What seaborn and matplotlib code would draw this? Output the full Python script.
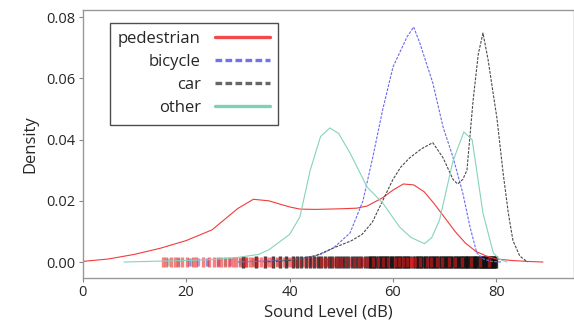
import matplotlib
matplotlib.use("Agg")
import matplotlib.pyplot as plt
import seaborn as sns
from matplotlib.lines import Line2D

sns.set_style("ticks")
plt.rcParams["font.family"] = ["Open Sans", "DejaVu Sans"]

# density curves
ped_x = [0, 5, 10, 15, 20, 25, 30, 33, 36, 40, 42, 45, 50, 53, 55, 58, 60, 62, 64, 66, 68, 70, 72, 74, 76, 78, 80, 83, 86, 89]
ped_y = [0.0002, 0.001, 0.0025, 0.0045, 0.007, 0.0105, 0.0175, 0.0205, 0.0200, 0.0180, 0.0173, 0.0172, 0.0174, 0.0176, 0.0183, 0.021, 0.0235, 0.0255, 0.0252, 0.023, 0.019, 0.0145, 0.010, 0.0062, 0.0035, 0.002, 0.001, 0.0005, 0.0002, 0.0]

bic_x = [30, 38, 42, 46, 48.5, 51.7, 54.2, 56.1, 58, 60, 62.7, 64, 65.2, 67.7, 69.7, 71.6, 73.5, 74.9, 76.2, 77.5, 79, 81]
bic_y = [0, 0.0005, 0.001, 0.0025, 0.0046, 0.0095, 0.020, 0.0343, 0.0497, 0.0637, 0.0735, 0.0768, 0.0715, 0.0585, 0.044, 0.0343, 0.0225, 0.0114, 0.003, 0.001, 0.0002, 0]

car_x = [35, 40, 45, 48.5, 52, 54, 56, 58, 60, 61.5, 63.2, 65.5, 67.7, 69.7, 71.6, 72.5, 73.5, 74.3, 75.5, 76.5, 77.4, 78.4, 79.2, 80.1, 81.3, 82.3, 83.2, 84.5, 86]
car_y = [0, 0.0005, 0.002, 0.0046, 0.007, 0.009, 0.013, 0.020, 0.027, 0.031, 0.034, 0.037, 0.039, 0.034, 0.027, 0.0255, 0.027, 0.030, 0.053, 0.068, 0.0748, 0.066, 0.057, 0.047, 0.029, 0.016, 0.007, 0.002, 0]

oth_x = [8, 15, 20, 25, 30, 34, 36, 38, 40, 42, 44, 46, 47.8, 49.5, 51.7, 55, 58, 61.3, 63.5, 66.1, 67.5, 69, 71.6, 73.7, 75.3, 77.4, 79.4, 80.5, 82]
oth_y = [0, 0.0003, 0.0005, 0.0008, 0.0015, 0.0025, 0.004, 0.0065, 0.009, 0.0147, 0.030, 0.041, 0.0438, 0.042, 0.0356, 0.0245, 0.0193, 0.0114, 0.008, 0.006, 0.008, 0.0137, 0.033, 0.0425, 0.040, 0.016, 0.003, 0.001, 0]

# rug observations (approximate)
ped_rug = [15.5, 16.2, 17.0, 17.8, 18.5, 19.3, 20.1, 21.4, 22.0, 23.2, 24.5, 25.3, 26.1, 26.8, 27.5, 28.2,
           29.0, 29.7, 30.4, 31.1, 31.5, 31.6, 32.3, 33.0, 33.8, 34.5, 35.2, 36.0, 36.7, 37.5, 38.2, 39.0,
           39.8, 40.5, 41.3, 42.0, 42.8, 43.6, 44.3, 45.1, 46.0, 46.8, 47.5, 48.4, 49.2, 50.0, 50.9, 51.7,
           52.5, 53.4, 54.2, 55.0, 56.1, 57.2, 58.0, 59.1, 60.3, 61.2, 62.0, 62.8, 63.4, 63.5, 63.6, 64.2,
           65.3, 66.5, 67.4, 68.6, 69.5, 70.8, 72.0, 73.4, 75.0, 76.8, 78.5]
bic_rug = [20.5, 22.3, 24.0, 26.2, 28.4, 44.0, 47.5, 50.2, 52.0, 53.8, 55.5, 57.0, 58.3, 59.5, 60.6,
           61.5, 62.3, 63.0, 63.8, 64.5, 65.3, 66.1, 67.0, 68.2, 69.4, 70.7, 72.1, 73.8, 75.5]
car_rug = [31.0, 33.5, 35.2, 36.8, 38.1, 39.4, 40.6, 41.5, 42.3, 43.2, 44.0, 44.8, 45.5, 46.1, 46.9, 47.6,
           48.2, 48.9, 49.5, 50.1, 50.8, 51.4, 52.0, 52.7, 53.3, 53.9, 54.6, 55.2, 55.5, 55.8, 56.1, 56.4,
           56.8, 57.1, 57.4, 57.7, 58.0, 58.3, 58.6, 58.9, 59.3, 59.6, 59.9, 60.2, 60.5, 60.8, 61.1, 61.4,
           61.8, 62.1, 62.4, 62.7, 63.0, 63.3, 63.9, 64.3, 64.6, 64.9, 65.2, 65.5, 65.8, 66.1, 66.4, 66.8,
           67.1, 67.4, 67.7, 68.0, 68.3, 68.6, 68.9, 69.2, 69.5, 69.8, 70.1, 70.4, 70.7, 71.0, 71.3, 71.6,
           71.9, 72.2, 72.5, 72.8, 73.1, 73.4, 73.6, 73.9, 74.1, 74.4, 74.6, 74.9, 75.1, 75.4, 75.6, 75.9,
           76.1, 76.3, 76.6, 76.8, 77.0, 77.2, 77.4, 77.6, 77.8, 78.0, 78.2, 78.4, 78.6, 78.8, 79.0, 79.2,
           79.4, 79.6, 79.8, 80.0]
oth_rug = [16.5, 18.5, 21.0, 24.0, 27.5, 30.5, 33.0, 35.5, 37.5, 39.5, 41.0, 42.5,
           44.0, 45.5, 46.5, 47.5, 48.5, 49.5, 51.0, 52.5, 54.0, 56.0, 58.0, 61.0, 64.0, 67.5, 70.0, 71.5,
           72.5, 73.5, 74.0, 74.5, 75.5, 76.5, 77.5, 78.5, 79.5]

labels = ["pedestrian", "bicycle", "car", "other"]
colors = ["#f03c3c", "#6a6aee", "#4a4a4a", "#86d3bb"]
styles = ["-", (0, (2.5, 1.2)), (0, (2.5, 1.2)), "-"]

fig = plt.figure(figsize=(5.74, 3.27), dpi=100)
ax = fig.add_axes([0.144, 0.150, 0.856, 0.819])

curves = [(ped_x, ped_y), (bic_x, bic_y), (car_x, car_y), (oth_x, oth_y)]
for (xs, ys), c, ls in zip(curves, colors, styles):
    sns.lineplot(x=xs, y=ys, color=c, linestyle=ls, lw=0.8, sort=False, ax=ax)

# rug along y = 0
rugs = [oth_rug, bic_rug, car_rug, ped_rug]
rug_cols = ["#5fc8b0", "#8a5fd0", "#111111", "#ee1c1c"]
rug_alpha = [0.6, 0.6, 0.8, 0.55]
rug_size = [40, 40, 75, 55]
for vals, c, a, s in zip(rugs, rug_cols, rug_alpha, rug_size):
    sns.scatterplot(x=vals, y=[0] * len(vals), marker="|", s=s, color=c,
                    linewidth=2.4, alpha=a, ax=ax)

ax.set_xlim(0, 95)
ax.set_ylim(-0.0052, 0.0823)
ax.set_xticks([0, 20, 40, 60, 80])
ax.set_yticks([0.00, 0.02, 0.04, 0.06, 0.08])
ax.set_yticklabels(["0.00", "0.02", "0.04", "0.06", "0.08"])
ax.tick_params(labelsize=10.5, length=3, color="#888888", pad=2)
ax.set_xlabel("Sound Level (dB)", fontsize=12, labelpad=3)
ax.set_ylabel("Density", fontsize=12, labelpad=6)
for side in ["left", "bottom", "top", "right"]:
    ax.spines[side].set_color("#999999")
    ax.spines[side].set_linewidth(1.0)

handles = [Line2D([], [], color=c, linestyle=("-" if ls == "-" else (0, (2, 1))), lw=2.4)
           for c, ls in zip(["#f04a4a", "#7272ee", "#666666", "#80d0b4"], styles)]
leg = ax.legend(handles, labels, loc="upper left", bbox_to_anchor=(0.055, 0.952),
                borderaxespad=0, markerfirst=False, fontsize=12, frameon=True,
                fancybox=False, edgecolor="#222222", handlelength=3.3,
                labelspacing=0.42, borderpad=0.5, handletextpad=0.85)
leg.get_frame().set_linewidth(1.0)
for t in leg.get_texts():
    t.set_ha("right")
leg._legend_box.align = "right"

fig.savefig("out.png", dpi=100)
